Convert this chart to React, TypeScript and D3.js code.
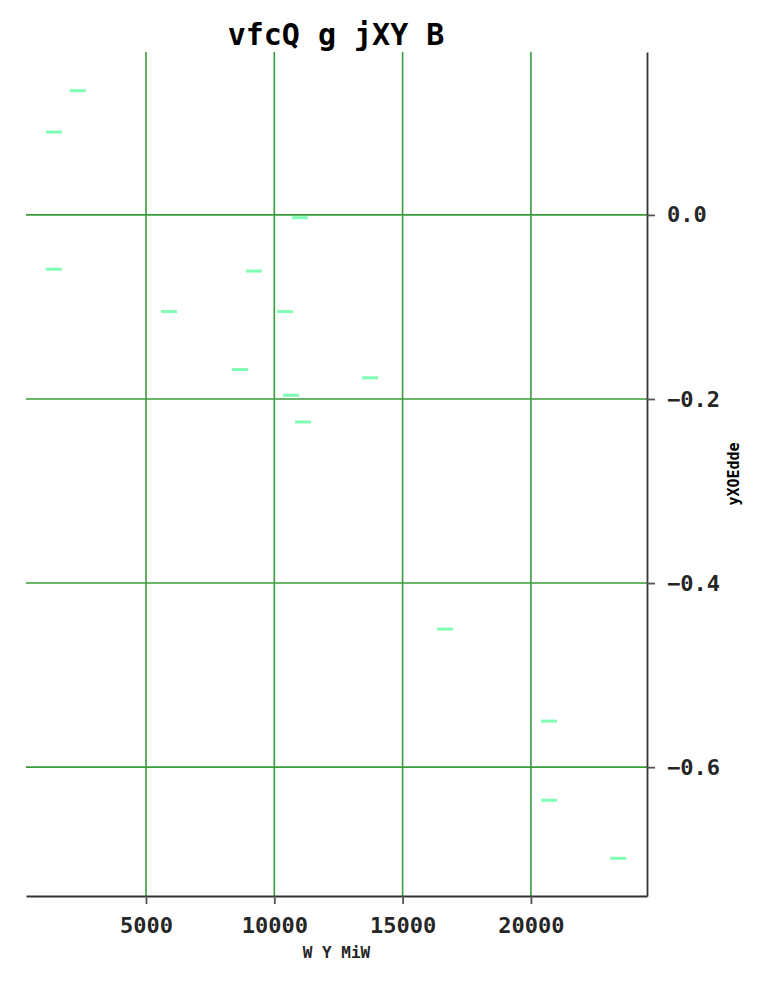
import React, { useEffect, useRef } from 'react';
import * as d3 from 'd3';

const xValues = [2350, 1415, 11000, 1415, 9209, 5897, 10417, 8664, 13730, 10651, 11118, 16652, 20705, 20705, 23394];
const yValues = [0.135, 0.09, -0.003, -0.059, -0.061, -0.105, -0.105, -0.168, -0.177, -0.196, -0.225, -0.45, -0.55, -0.636, -0.699];
const xTicks = [5000, 10000, 15000, 20000];
const yTicks = [0, -0.2, -0.4, -0.6];

const W = 763;
const H = 981;
const FONT = '"DejaVu Sans Mono", monospace';

const App: React.FC = () => {
  const svgRef = useRef<SVGSVGElement>(null);

  useEffect(() => {
    if (!svgRef.current) return;
    const root = d3.select(svgRef.current);
    root.selectAll('*').remove();

    const margin = { top: 52, right: 116, bottom: 85, left: 26 };
    const width = W - margin.left - margin.right;
    const height = H - margin.top - margin.bottom;

    const svg = root.append('g').attr('transform', `translate(${margin.left},${margin.top})`);

    const x = d3.scaleLinear().domain([323, 24524]).range([0, width]);
    const y = d3.scaleLinear().domain([-0.74, 0.177]).range([height, 0]);

    // grid
    svg
      .selectAll('.vgrid')
      .data(xTicks)
      .enter()
      .append('line')
      .attr('x1', d => x(d))
      .attr('x2', d => x(d))
      .attr('y1', 0)
      .attr('y2', height)
      .attr('stroke', '#389c38')
      .attr('stroke-width', 1.6);
    svg
      .selectAll('.hgrid')
      .data(yTicks)
      .enter()
      .append('line')
      .attr('x1', 0)
      .attr('x2', width)
      .attr('y1', d => y(d))
      .attr('y2', d => y(d))
      .attr('stroke', '#389c38')
      .attr('stroke-width', 1.6);

    // markers
    svg
      .selectAll('.pt')
      .data(xValues.map((v, i) => [v, yValues[i]]))
      .enter()
      .append('line')
      .attr('x1', d => x(d[0]) - 8)
      .attr('x2', d => x(d[0]) + 8)
      .attr('y1', d => y(d[1]))
      .attr('y2', d => y(d[1]))
      .attr('stroke', '#80ffb4')
      .attr('stroke-width', 3);

    // bottom axis
    const xAxis = svg
      .append('g')
      .attr('transform', `translate(0,${height})`)
      .call(d3.axisBottom(x).tickValues(xTicks).tickSize(8).tickSizeOuter(0).tickPadding(13).tickFormat(d3.format('d')));
    xAxis.select('.domain').attr('stroke', '#333').attr('stroke-width', 1.8);
    xAxis.selectAll('.tick line').attr('stroke', '#555').attr('stroke-width', 1.8);
    xAxis
      .selectAll('.tick text')
      .attr('fill', '#262626')
      .attr('font-family', FONT)
      .attr('font-weight', 'bold')
      .attr('font-size', 22);

    // right axis
    const yAxis = svg
      .append('g')
      .attr('transform', `translate(${width},0)`)
      .call(d3.axisRight(y).tickValues(yTicks).tickSize(8).tickSizeOuter(0).tickPadding(12).tickFormat(d3.format('.1f')));
    yAxis.select('.domain').attr('stroke', '#333').attr('stroke-width', 1.8);
    yAxis.selectAll('.tick line').attr('stroke', '#555').attr('stroke-width', 1.8);
    yAxis
      .selectAll('.tick text')
      .attr('fill', '#262626')
      .attr('font-family', FONT)
      .attr('font-weight', 'bold')
      .attr('font-size', 22);

    // labels
    svg
      .append('text')
      .attr('x', width / 2)
      .attr('y', height + 62)
      .attr('text-anchor', 'middle')
      .attr('font-family', FONT)
      .attr('font-weight', 'bold')
      .attr('font-size', 16)
      .attr('fill', '#262626')
      .text('W Y MiW');

    svg
      .append('text')
      .attr('transform', `translate(${width + 92},${height / 2}) rotate(-90)`)
      .attr('text-anchor', 'middle')
      .attr('font-family', FONT)
      .attr('font-weight', 'bold')
      .attr('font-size', 15)
      .attr('fill', '#000')
      .text('yXOEdde');

    root
      .append('text')
      .attr('x', 336)
      .attr('y', 45)
      .attr('text-anchor', 'middle')
      .attr('font-family', FONT)
      .attr('font-weight', 'bold')
      .attr('font-size', 30)
      .attr('fill', '#000')
      .text('vfcQ g jXY B');
  }, []);

  return <svg ref={svgRef} width={W} height={H} style={{ position: 'absolute', left: 0, top: 0 }} />;
};

export default App;
